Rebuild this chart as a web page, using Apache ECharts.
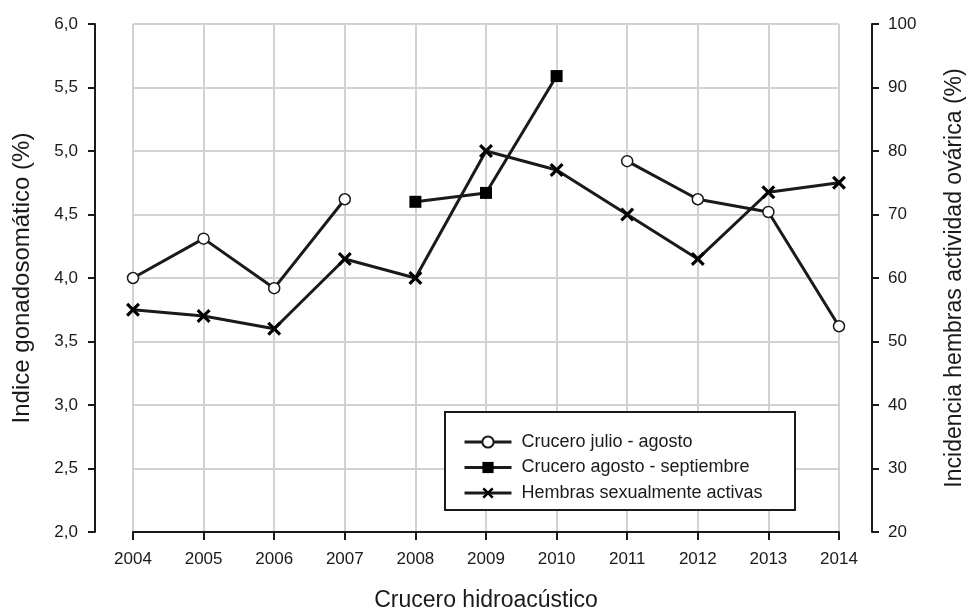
<!DOCTYPE html>
<html lang="es">
<head>
  <meta charset="UTF-8">
  <title>Indice gonadosomático</title>
  <script src="https://cdn.jsdelivr.net/npm/echarts@6/dist/echarts.min.js"></script>
  <style>
    html, body { margin: 0; padding: 0; background: #fff; }
    #chart { width: 967px; height: 613px; }
  </style>
</head>
<body>
  <div id="chart"></div>
  <script>
    // años de crucero
    var years = ['2004', '2005', '2006', '2007', '2008', '2009', '2010', '2011', '2012', '2013', '2014']
    // IGS crucero julio - agosto (eje izq.)
    var julioAgosto = [4.0, 4.31, 3.92, 4.62, null, null, null, 4.92, 4.62, 4.52, 3.62]
    // IGS crucero agosto - septiembre (eje izq.)
    var agostoSept = [null, null, null, null, 4.6, 4.67, 5.59, null, null, null, null]
    // % hembras sexualmente activas (eje der.)
    var hembras = [55, 54, 52, 63, 60, 80, 77, 70, 63, 73.5, 75]

    var names = ['Crucero julio - agosto', 'Crucero agosto - septiembre', 'Hembras sexualmente activas']

    var font = 'Liberation Sans, Arial, sans-serif'
    var ink = '#1a1a1a'
    var xMark = 'path://M0,1.6 L1.6,0 L5,3.4 L8.4,0 L10,1.6 L6.6,5 L10,8.4 L8.4,10 L5,6.6 L1.6,10 L0,8.4 L3.4,5 Z'

    var chart = echarts.init(document.getElementById('chart'))

    var option = {
      animation: false,
      backgroundColor: '#fff',
      textStyle: { fontFamily: font },
      grid: { left: 133, right: 128, top: 24, bottom: 81, containLabel: false, outerBoundsMode: 'none' },
      xAxis: {
        type: 'category',
        data: years,
        boundaryGap: false,
        name: 'Crucero hidroacústico',
        nameLocation: 'middle',
        nameGap: 57,
        nameTextStyle: { fontSize: 23, color: ink, fontFamily: font },
        axisLine: { lineStyle: { color: ink, width: 2 } },
        axisTick: { show: true, length: 8, inside: false, lineStyle: { color: ink, width: 2 } },
        axisLabel: { color: ink, fontSize: 17, margin: 19, fontFamily: font },
        splitLine: { show: true, lineStyle: { color: '#d2d2d2', width: 2 } }
      },
      yAxis: [
        {
          type: 'value',
          position: 'left',
          min: 2, max: 6, interval: 0.5,
          offset: 38,
          name: 'Indice gonadosomático (%)',
          nameLocation: 'middle',
          nameRotate: 90,
          nameGap: 61,
          nameTextStyle: { fontSize: 24, color: ink, fontFamily: font },
          axisLine: { show: true, lineStyle: { color: ink, width: 2 } },
          axisTick: { show: true, length: 7, lineStyle: { color: ink, width: 2 } },
          axisLabel: {
            color: ink, fontSize: 17, margin: 17, fontFamily: font,
            formatter: function (v) { return v.toFixed(1).replace('.', ',') }
          },
          splitLine: { show: true, lineStyle: { color: '#d2d2d2', width: 2 } }
        },
        {
          type: 'value',
          position: 'right',
          min: 20, max: 100, interval: 10,
          offset: 33,
          name: 'Incidencia hembras actividad ovárica (%)',
          nameLocation: 'middle',
          nameRotate: 90,
          nameGap: 71,
          nameTextStyle: { fontSize: 23, color: ink, fontFamily: font },
          axisLine: { show: true, lineStyle: { color: ink, width: 2 } },
          axisTick: { show: true, length: 7, lineStyle: { color: ink, width: 2 } },
          axisLabel: { color: ink, fontSize: 17, margin: 16, fontFamily: font },
          splitLine: { show: false }
        }
      ],
      legend: {
        orient: 'vertical',
        left: 458,
        top: 428,
        z: 100,
        itemWidth: 47,
        itemHeight: 14,
        itemGap: 7.5,
        lineStyle: { width: 3 },
        textStyle: { color: ink, fontSize: 18, fontFamily: font, padding: [0, 0, 0, 5] },
        data: names
      },
      graphic: [{
        type: 'rect',
        shape: { x: 445, y: 412, width: 350, height: 98 },
        style: { fill: '#fff', stroke: ink, lineWidth: 2 },
        z: 50
      }],
      series: [
        {
          name: names[0],
          type: 'line',
          yAxisIndex: 0,
          data: julioAgosto,
          connectNulls: false,
          symbol: 'circle',
          symbolSize: 11,
          showAllSymbol: true,
          lineStyle: { color: ink, width: 3 },
          itemStyle: { color: '#fff', borderColor: ink, borderWidth: 1.5 },
          z: 3
        },
        {
          name: names[1],
          type: 'line',
          yAxisIndex: 0,
          data: agostoSept,
          symbol: 'rect',
          symbolSize: 12,
          showAllSymbol: true,
          lineStyle: { color: ink, width: 3 },
          itemStyle: { color: '#000', borderColor: '#000', borderWidth: 0 },
          z: 3
        },
        {
          name: names[2],
          type: 'line',
          yAxisIndex: 1,
          data: hembras,
          symbol: xMark,
          symbolSize: 14,
          showAllSymbol: true,
          lineStyle: { color: ink, width: 3 },
          itemStyle: { color: '#000', borderColor: '#000', borderWidth: 0 },
          z: 3
        }
      ]
    }
    chart.setOption(option)
  </script>
</body>
</html>
